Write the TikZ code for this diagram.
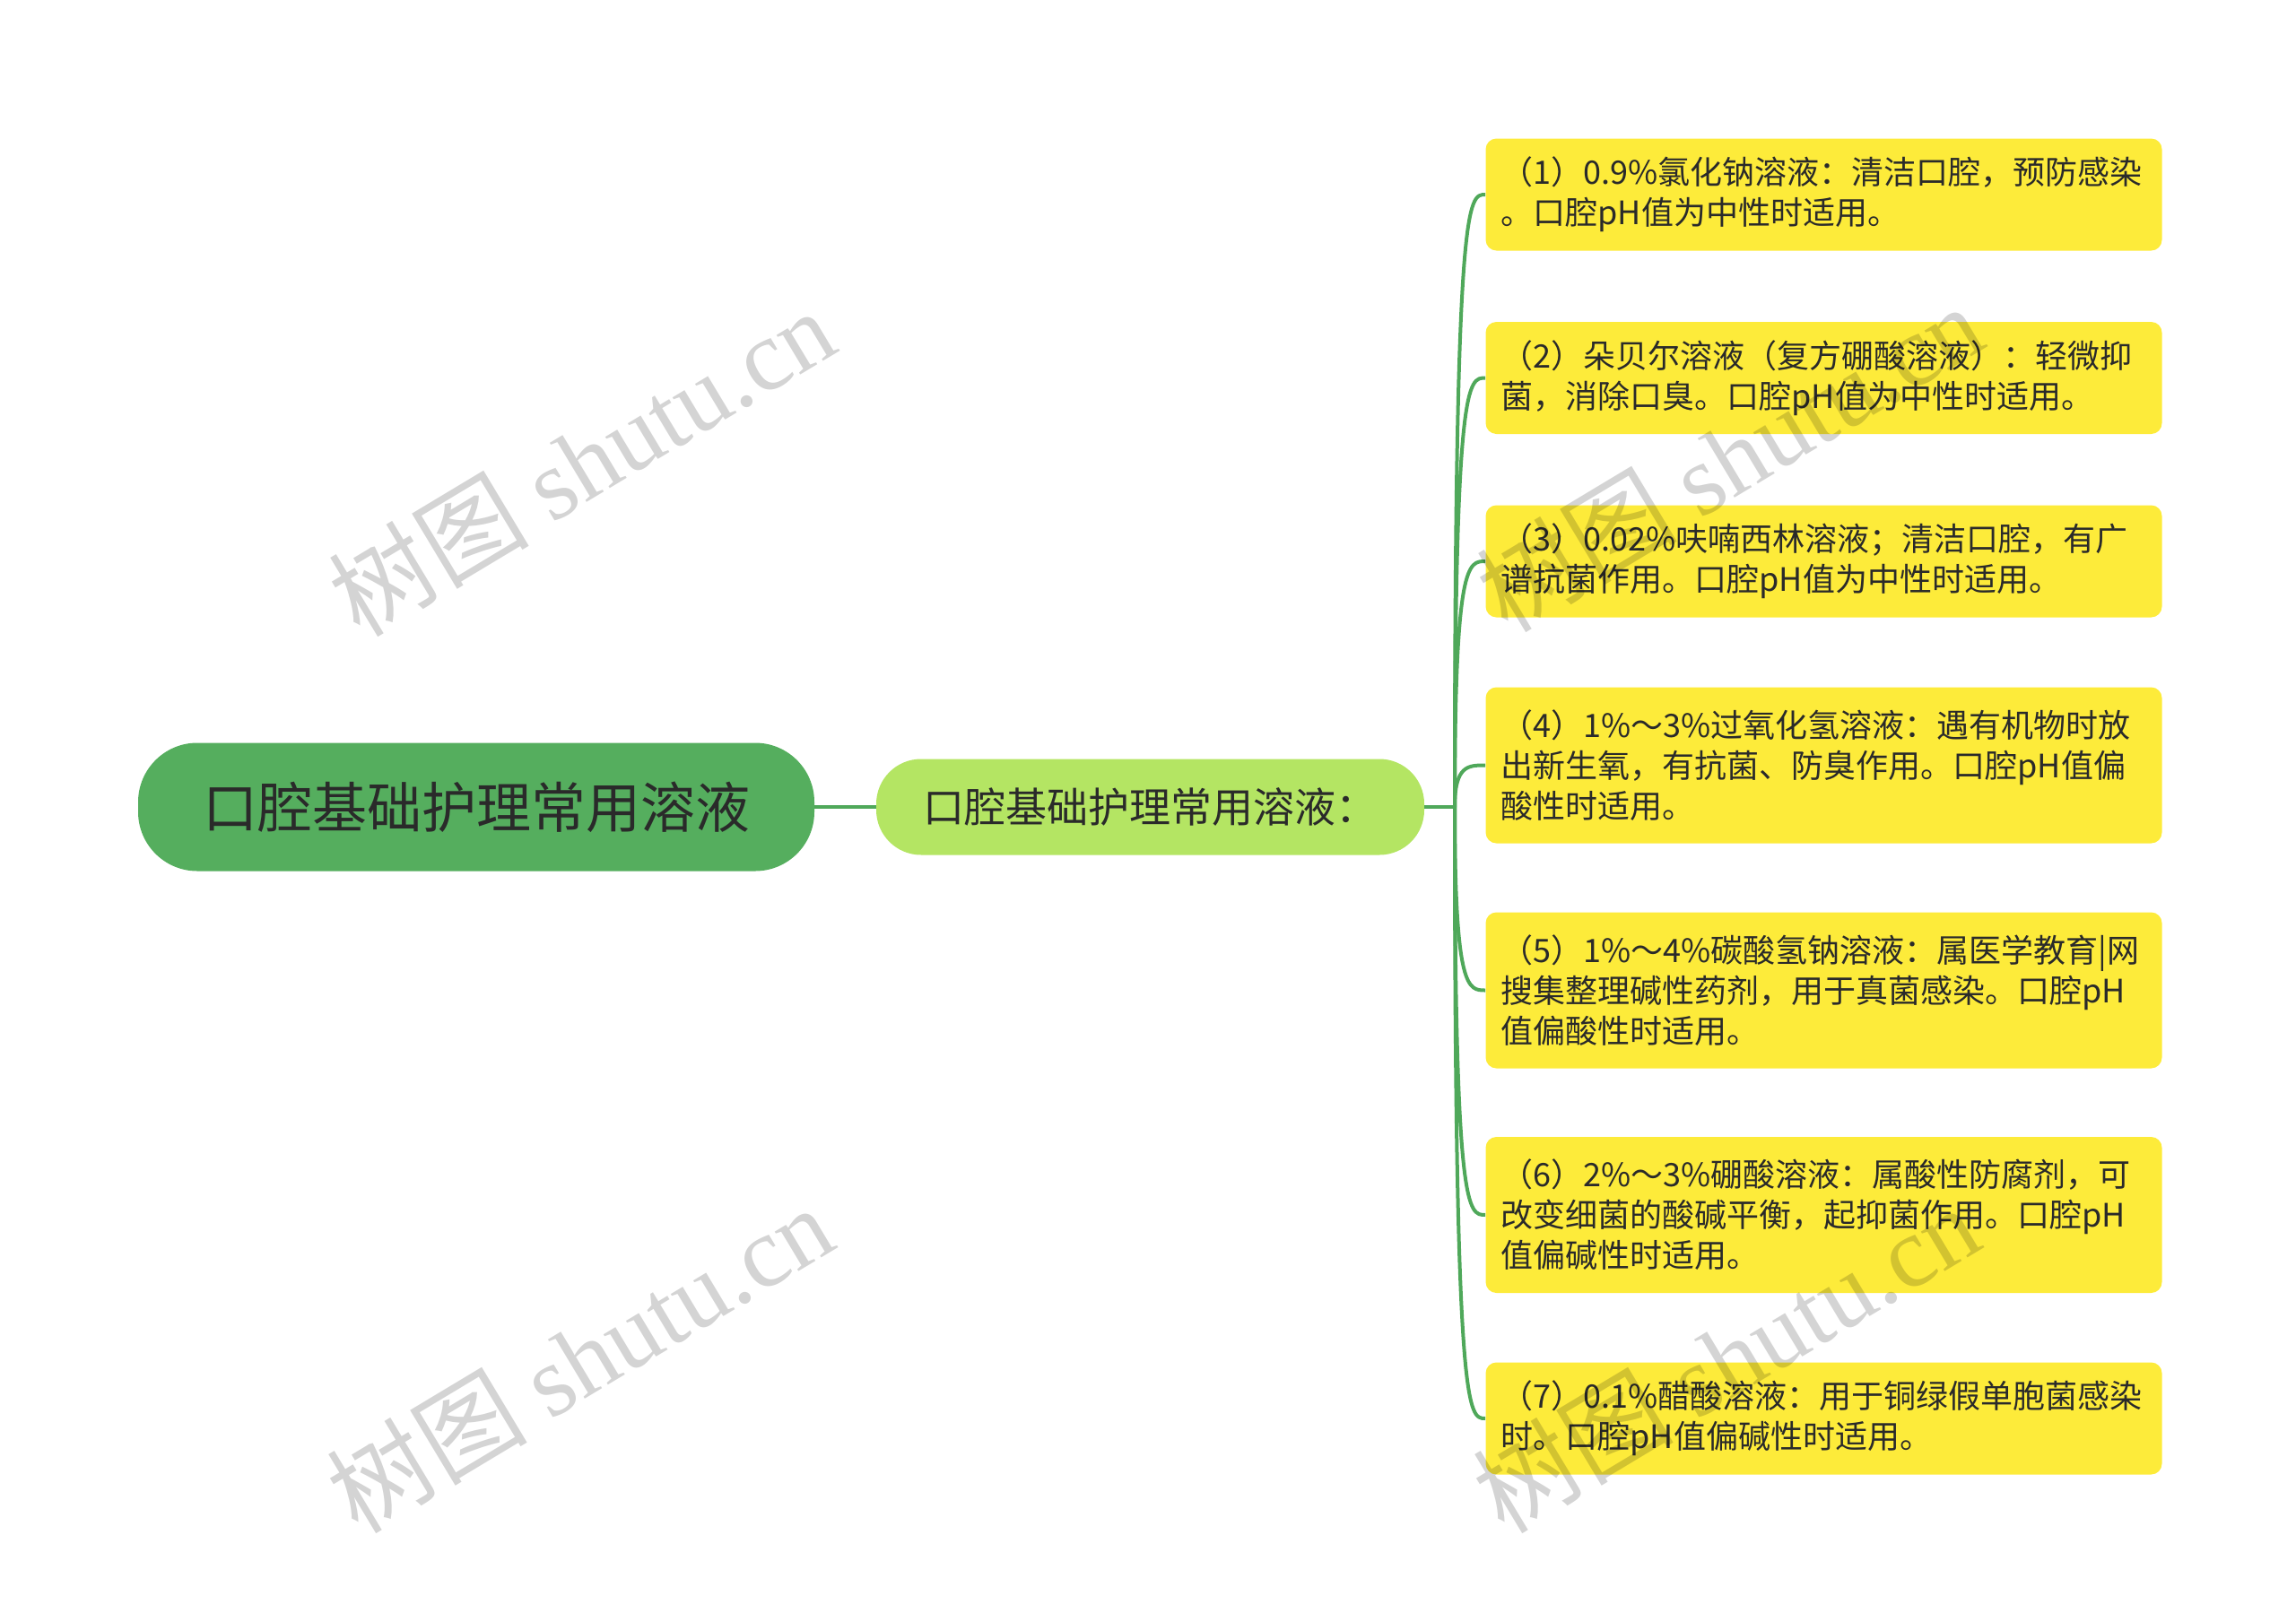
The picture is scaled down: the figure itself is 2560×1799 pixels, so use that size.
\documentclass[tikz,border=0pt]{standalone}
\usepackage{fontspec}
\setmainfont{Noto Sans CJK SC}
\newfontfamily\wmlatin{Liberation Serif}
\usetikzlibrary{calc}
\definecolor{rootgreen}{HTML}{55AE5E}
\definecolor{midgreen}{HTML}{B4E563}
\definecolor{leafyellow}{HTML}{FDEB3A}
\definecolor{linegreen}{HTML}{4FA85A}
\definecolor{txt}{HTML}{2A2A2A}
\tikzset{
  rootbox/.style={fill=rootgreen, rounded corners=33pt, minimum width=377pt, minimum height=71.5pt, inner sep=0pt, text=txt, font=\fontsize{30.5}{36}\selectfont},
  midbox/.style={fill=midgreen, rounded corners=25pt, minimum width=305.5pt, minimum height=53.5pt, inner sep=0pt, text=txt, font=\fontsize{23}{28}\selectfont},
  leafbox/.style={fill=leafyellow, rounded corners=6pt, inner xsep=8.5pt, inner ysep=0pt, text width=360pt, align=left, text=txt, font=\fontsize{18}{22.5}\selectfont, anchor=center},
  twoline/.style={minimum height=62.5pt},
  threeline/.style={minimum height=87pt},
  conn/.style={draw=linegreen, line width=2pt},
  wm/.style={text=black, opacity=0.17, rotate=31, font=\fontsize{56}{60}\selectfont}
}
\begin{document}
\begin{tikzpicture}[x=0.5pt,y=-0.5pt]
\useasboundingbox (0,0) rectangle (2560,1799);

\node[rootbox] (root) at (531,900) {口腔基础护理常用溶液};
\node[midbox] (mid) at (1282.5,900) {口腔基础护理常用溶液：};
\coordinate (trunk) at (1622,900);

\node[leafbox,twoline] (l1) at (2033.5,217) {（1）0.9\%氯化钠溶液：清洁口腔，预防感染\\。口腔pH值为中性时适用。};
\node[leafbox,twoline] (l2) at (2033.5,421.5) {（2）朵贝尔溶液（复方硼酸溶液）：轻微抑\\菌，消除口臭。口腔pH值为中性时适用。};
\node[leafbox,twoline] (l3) at (2033.5,626) {（3）0.02\%呋喃西林溶液；清洁口腔，有广\\谱抗菌作用。口腔pH值为中性时适用。};
\node[leafbox,threeline] (l4) at (2033.5,853.5) {（4）1\%～3\%过氧化氢溶液：遇有机物时放\\出新生氧，有抗菌、防臭作用。口腔pH值偏\\酸性时适用。};
\node[leafbox,threeline] (l5) at (2033.5,1104.5) {（5）1\%～4\%碳酸氢钠溶液：属医学教育|网\\搜集整理碱性药剂，用于真菌感染。口腔pH\\值偏酸性时适用。};
\node[leafbox,threeline] (l6) at (2033.5,1355) {（6）2\%～3\%硼酸溶液：属酸性防腐剂，可\\改变细菌的酸碱平衡，起抑菌作用。口腔pH\\值偏碱性时适用。};
\node[leafbox,twoline] (l7) at (2033.5,1582) {（7）0.1\%醋酸溶液：用于铜绿假单胞菌感染\\时。口腔pH值偏碱性时适用。};

\draw[conn] (root.east) -- (mid.west);
\draw[conn] (mid.east) -- (trunk);
\foreach \l in {l1,l2,l3,l4,l5,l6,l7}{
  \draw[conn] (trunk) .. controls (trunk |- \l.west) and ($(trunk |- \l.west)+(15,0)$) .. (\l.west);
}

\node[wm] (wm1) at (648,515) {树图 {\wmlatin shutu.cn}};
\node[wm] (wm2) at (646,1515) {树图 {\wmlatin shutu.cn}};
\node[wm] (wm3) at (1928,510) {树图 {\wmlatin shutu.cn}};
\node[wm] (wm4) at (1924,1515) {树图 {\wmlatin shutu.cn}};
\end{tikzpicture}
\end{document}
